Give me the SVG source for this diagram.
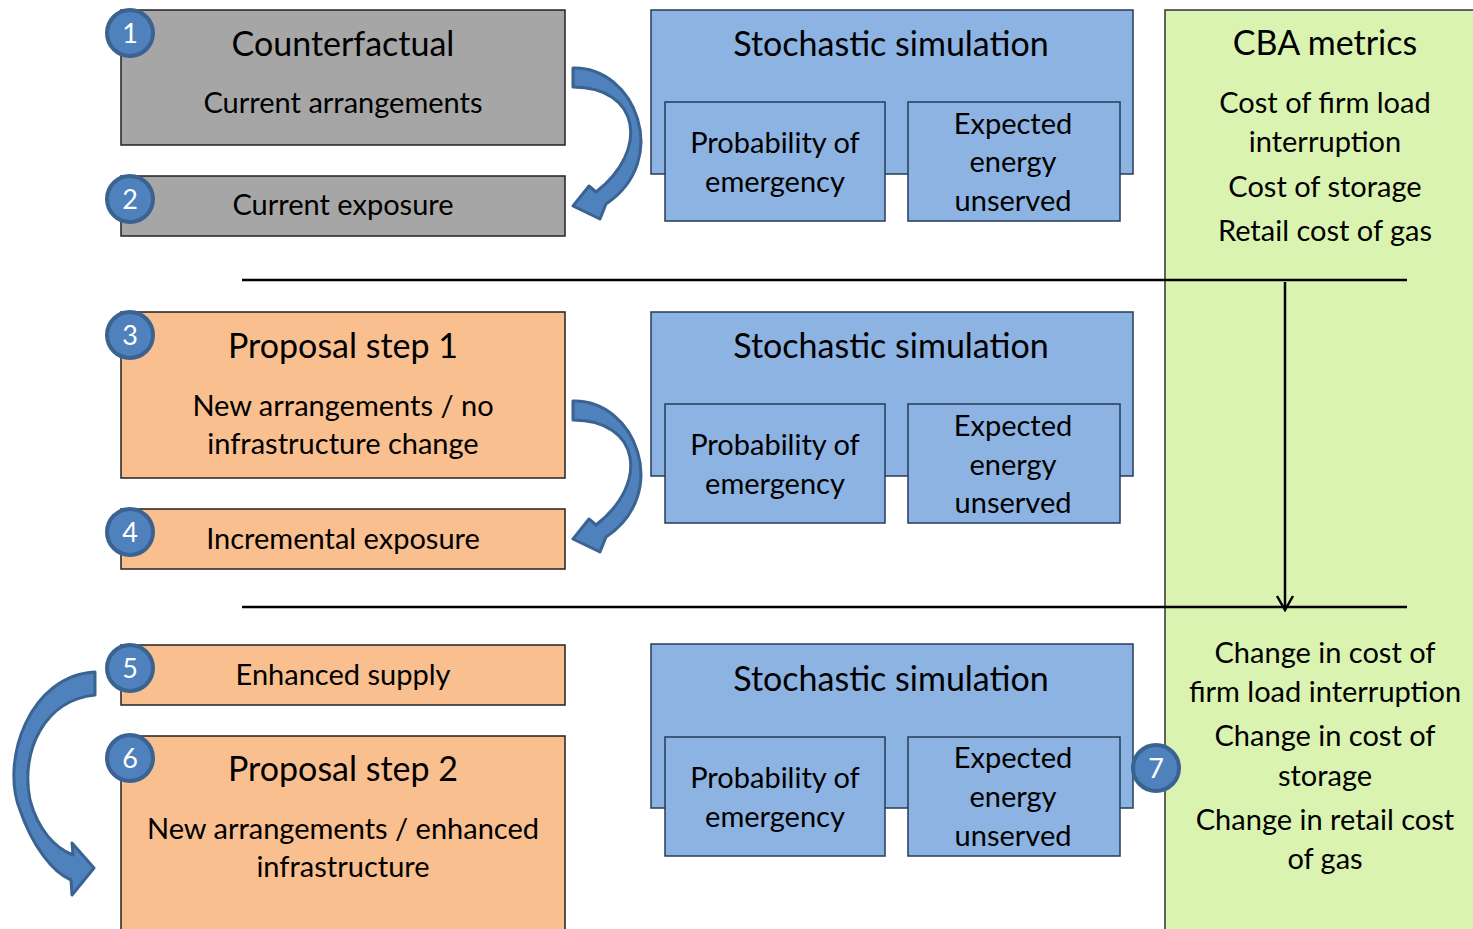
<svg xmlns="http://www.w3.org/2000/svg" width="1473" height="929" viewBox="0 0 1473 929">
<defs>
<style>
text{font-family:"Lato","Open Sans",sans-serif;fill:#000;text-anchor:middle}
.grey{fill:#a6a6a6;stroke:#222;stroke-width:1.5}
.orange{fill:#f9bf8f;stroke:#222;stroke-width:1.5}
.blue{fill:#8db3e2;stroke:#243b5a;stroke-width:1.5}
.green{fill:#dbf3b0;stroke:#333;stroke-width:1.5}
.num{fill:#4f81bd;stroke:#3a6391;stroke-width:4}
.numt{fill:#fff;font-size:27px}
.t1{font-size:34px}
.t2{font-size:29px}
.t3{font-size:29px}
.arr{fill:#4f81bd;stroke:#3a6391;stroke-width:3;stroke-linejoin:round}
.line{stroke:#000;stroke-width:2.5;fill:none}
</style>
<marker id="vh" viewBox="0 0 20 20" refX="18" refY="10" markerWidth="20" markerHeight="20" markerUnits="userSpaceOnUse" orient="auto">
<path d="M4,2 L18,10 L4,18" fill="none" stroke="#000" stroke-width="2.5"/>
</marker>
</defs>
<rect width="1473" height="929" fill="#fff"/>

<g id="cba">
<rect class="green" x="1165" y="10" width="320" height="930"/>
<text class="t1" x="1325" y="55">CBA metrics</text>
<text class="t3" x="1325" y="113">Cost of firm load</text>
<text class="t3" x="1325" y="152">interruption</text>
<text class="t3" x="1325" y="197">Cost of storage</text>
<text class="t3" x="1325" y="241">Retail cost of gas</text>
<text class="t3" x="1325" y="663">Change in cost of</text>
<text class="t3" x="1325" y="702">firm load interruption</text>
<text class="t3" x="1325" y="746">Change in cost of</text>
<text class="t3" x="1325" y="786">storage</text>
<text class="t3" x="1325" y="830">Change in retail cost</text>
<text class="t3" x="1325" y="869">of gas</text>
</g>

<g id="connectors">
<line class="line" x1="242" y1="280" x2="1407" y2="280"/>
<line class="line" x1="242" y1="607" x2="1407" y2="607"/>
<line class="line" x1="1285" y1="282" x2="1285" y2="610" marker-end="url(#vh)"/>
<path class="arr" d="M573,68 C635,66 672,160 606,204 L600,219 L573,206 L589,186 L596,192 C650,150 640,87 573,87 Z"/>
<path class="arr" transform="translate(0,333)" d="M573,68 C635,66 672,160 606,204 L600,219 L573,206 L589,186 L596,192 C650,150 640,87 573,87 Z"/>
<path class="arr" d="M95,672 C30,675 0,760 20,810 C32,845 52,872 71,880 L72,895 L94,868 L72,843 L73,855 C55,848 38,830 30,800 C20,750 45,700 95,695 Z"/>
</g>

<g id="n1">
<rect class="grey" x="121" y="10" width="444" height="135"/>
<text class="t1" x="343" y="56">Counterfactual</text>
<text class="t2" x="343" y="113">Current arrangements</text>
</g>
<g id="n2">
<rect class="grey" x="121" y="176" width="444" height="60"/>
<text class="t2" x="343" y="215">Current exposure</text>
</g>
<g id="n3">
<rect class="orange" x="121" y="312" width="444" height="166"/>
<text class="t1" x="343" y="358">Proposal step 1</text>
<text class="t2" x="343" y="416">New arrangements / no</text>
<text class="t2" x="343" y="454">infrastructure change</text>
</g>
<g id="n4">
<rect class="orange" x="121" y="509" width="444" height="60"/>
<text class="t2" x="343" y="549">Incremental exposure</text>
</g>
<g id="n5">
<rect class="orange" x="121" y="645" width="444" height="60"/>
<text class="t2" x="343" y="685">Enhanced supply</text>
</g>
<g id="n6">
<rect class="orange" x="121" y="736" width="444" height="210"/>
<text class="t1" x="343" y="781">Proposal step 2</text>
<text class="t2" x="343" y="839">New arrangements / enhanced</text>
<text class="t2" x="343" y="877">infrastructure</text>
</g>

<g id="sim1">
<rect class="blue" x="651" y="10" width="482" height="164"/>
<text class="t1" x="891" y="56">Stochastic simulation</text>
<rect class="blue" x="665" y="102" width="220" height="119"/>
<text class="t3" x="775" y="153">Probability of</text>
<text class="t3" x="775" y="192">emergency</text>
<rect class="blue" x="908" y="102" width="212" height="119"/>
<text class="t3" x="1013" y="134">Expected</text>
<text class="t3" x="1013" y="172">energy</text>
<text class="t3" x="1013" y="211">unserved</text>
</g>
<g id="sim2">
<rect class="blue" x="651" y="312" width="482" height="164"/>
<text class="t1" x="891" y="358">Stochastic simulation</text>
<rect class="blue" x="665" y="404" width="220" height="119"/>
<text class="t3" x="775" y="455">Probability of</text>
<text class="t3" x="775" y="494">emergency</text>
<rect class="blue" x="908" y="404" width="212" height="119"/>
<text class="t3" x="1013" y="436">Expected</text>
<text class="t3" x="1013" y="475">energy</text>
<text class="t3" x="1013" y="513">unserved</text>
</g>
<g id="sim3">
<rect class="blue" x="651" y="644" width="482" height="164"/>
<text class="t1" x="891" y="691">Stochastic simulation</text>
<rect class="blue" x="665" y="737" width="220" height="119"/>
<text class="t3" x="775" y="788">Probability of</text>
<text class="t3" x="775" y="827">emergency</text>
<rect class="blue" x="908" y="737" width="212" height="119"/>
<text class="t3" x="1013" y="768">Expected</text>
<text class="t3" x="1013" y="807">energy</text>
<text class="t3" x="1013" y="846">unserved</text>
</g>

<g id="c1"><circle class="num" cx="130" cy="33" r="23"/><text class="numt" x="130" y="43">1</text></g>
<g id="c2"><circle class="num" cx="130" cy="199" r="23"/><text class="numt" x="130" y="209">2</text></g>
<g id="c3"><circle class="num" cx="130" cy="335" r="23"/><text class="numt" x="130" y="345">3</text></g>
<g id="c4"><circle class="num" cx="130" cy="532" r="23"/><text class="numt" x="130" y="542">4</text></g>
<g id="c5"><circle class="num" cx="130" cy="668" r="23"/><text class="numt" x="130" y="678">5</text></g>
<g id="c6"><circle class="num" cx="130" cy="758" r="23"/><text class="numt" x="130" y="768">6</text></g>
<g id="c7"><circle class="num" cx="1156" cy="768" r="23"/><text class="numt" x="1156" y="778">7</text></g>
</svg>
